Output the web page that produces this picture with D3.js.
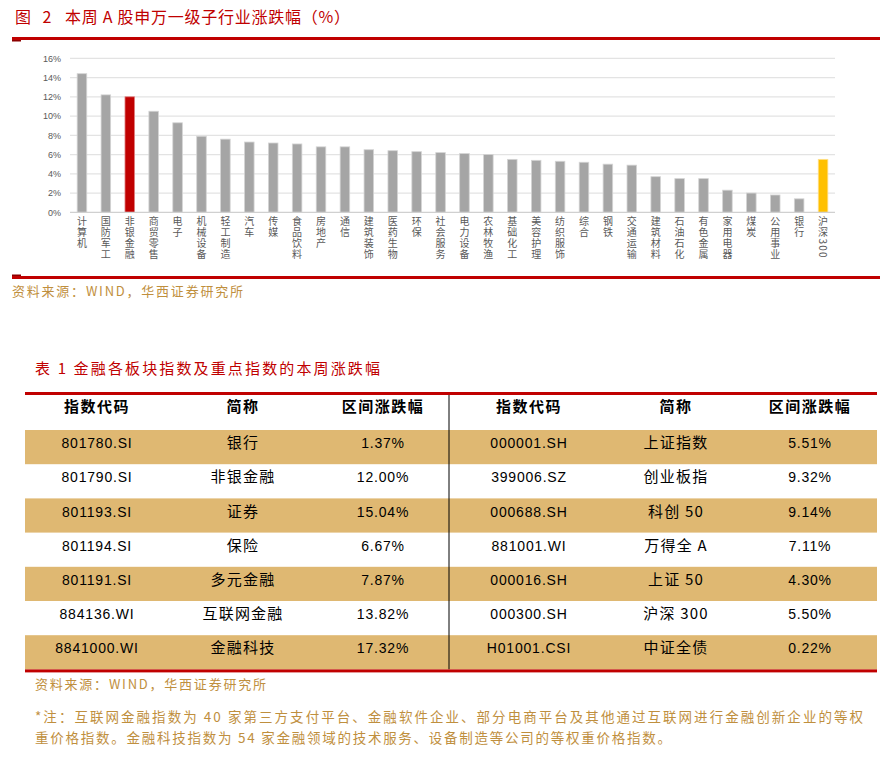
<!DOCTYPE html>
<html><head><meta charset="utf-8">
<script src="https://cdn.jsdelivr.net/npm/d3@7"></script>
<style>
html,body{margin:0;padding:0;background:#fff;}
svg{display:block;font-family:"Noto Sans CJK SC","Noto Sans",sans-serif;}
</style></head>
<body><svg id="c" width="890" height="760"></svg>
<script>
const categories = ["计算机","国防军工","非银金融","商贸零售","电子","机械设备","轻工制造","汽车","传媒","食品饮料","房地产","通信","建筑装饰","医药生物","环保","社会服务","电力设备","农林牧渔","基础化工","美容护理","纺织服饰","综合","钢铁","交通运输","建筑材料","石油石化","有色金属","家用电器","煤炭","公用事业","银行","沪深300"];
const values = [14.4,12.2,12.0,10.5,9.3,7.9,7.6,7.3,7.2,7.1,6.8,6.8,6.5,6.4,6.3,6.2,6.1,6.0,5.5,5.4,5.3,5.2,5.0,4.9,3.7,3.5,3.5,2.3,2.0,1.8,1.4,5.5];
const yTicks = [0,2,4,6,8,10,12,14,16];

const tableHeader = ["指数代码","简称","区间涨跌幅"];
const leftCodes = ["801780.SI","801790.SI","801193.SI","801194.SI","801191.SI","884136.WI","8841000.WI"];
const leftNames = ["银行","非银金融","证券","保险","多元金融","互联网金融","金融科技"];
const leftValues = ["1.37%","12.00%","15.04%","6.67%","7.87%","13.82%","17.32%"];
const rightCodes = ["000001.SH","399006.SZ","000688.SH","881001.WI","000016.SH","000300.SH","H01001.CSI"];
const rightNames = ["上证指数","创业板指","科创 50","万得全 A","上证 50","沪深 300","中证全债"];
const rightValues = ["5.51%","9.32%","9.14%","7.11%","4.30%","5.50%","0.22%"];

const svg = d3.select("#c");
const RED = "#c00000", GOLD = "#bf8f3e", TAN = "#dfb872";

// ---- Figure title
svg.append("text").attr("x",15).attr("y",23).attr("fill",RED).attr("font-size",16)
  .attr("letter-spacing",4).text("图 2");
svg.append("text").attr("x",65).attr("y",23).attr("fill",RED).attr("font-size",16)
  .attr("textLength",285).attr("lengthAdjust","spacing")
  .text("本周 A 股申万一级子行业涨跌幅（%）");
svg.append("rect").attr("x",12).attr("y",37).attr("width",868).attr("height",3).attr("fill",RED);
svg.append("rect").attr("x",12).attr("y",40).attr("width",9).attr("height",1.5).attr("fill","#8b0000");

// ---- Chart
const x = d3.scaleBand().domain(categories).range([70,835]).paddingInner(0.6).paddingOuter(0.3);
const y = d3.scaleLinear().domain([0,16]).range([212.3,58.3]);

const g = svg.append("g");
g.selectAll("line.grid").data(yTicks.filter(d=>d>0)).join("line").attr("class","grid")
  .attr("x1",70).attr("x2",835).attr("y1",d=>y(d)).attr("y2",d=>y(d))
  .attr("stroke","#e3e3e3").attr("stroke-width",1.2);
const yAxis = g.append("g").attr("transform","translate(70,0)")
  .call(d3.axisLeft(y).tickValues(yTicks).tickFormat(d=>d+"%").tickSize(0).tickPadding(9));
yAxis.select(".domain").remove();
yAxis.selectAll("text").attr("fill","#595959").attr("font-size",9).attr("font-family","Liberation Sans, Arial, sans-serif");

g.selectAll("rect.bar").data(categories).join("rect").attr("class","bar")
  .attr("x",d=>x(d)).attr("width",x.bandwidth())
  .attr("y",(d,i)=>y(values[i])).attr("height",(d,i)=>y(0)-y(values[i]))
  .attr("fill",d=> d==="非银金融"?RED:(d==="沪深300"?"#ffc000":"#a5a5a5"))
  .attr("stroke",d=> d==="非银金融"?"#e08080":(d==="沪深300"?"#ffe08a":"#d4d4d4")).attr("stroke-width",0.8);
g.append("line").attr("x1",70).attr("x2",835).attr("y1",y(0)).attr("y2",y(0))
  .attr("stroke","#d0d0d0").attr("stroke-width",1.2);

// vertical category labels
g.selectAll("text.cat").data(categories).join("text").attr("class","cat")
  .attr("x",d=>x(d)+x.bandwidth()/2).attr("y",216)
  .attr("style","writing-mode: vertical-rl; text-orientation: mixed;")
  .attr("letter-spacing",1.2)
  .attr("fill","#595959").attr("font-size",10).text(d=>d);

svg.append("rect").attr("x",12).attr("y",276).attr("width",868).attr("height",3).attr("fill",RED);
svg.append("rect").attr("x",12).attr("y",274.5).attr("width",9).attr("height",1.5).attr("fill","#8b0000");
svg.append("text").attr("x",12).attr("y",296).attr("fill",GOLD).attr("font-size",13)
  .attr("textLength",231).attr("lengthAdjust","spacing").text("资料来源：WIND，华西证券研究所");

// ---- Table
svg.append("text").attr("x",35).attr("y",374).attr("fill",RED).attr("font-size",15)
  .attr("textLength",345).attr("lengthAdjust","spacing").text("表 1  金融各板块指数及重点指数的本周涨跌幅");

const rowTop = 430, rowH = 34.2;
const nRows = leftCodes.length;
const tg = svg.append("g");
d3.range(nRows).forEach(i=>{
  if(i%2===0) tg.append("rect").attr("x",25).attr("y",rowTop+i*rowH).attr("width",852).attr("height",rowH).attr("fill",TAN);
});
tg.append("rect").attr("x",25).attr("y",392).attr("width",852).attr("height",3).attr("fill",RED);
tg.append("line").attr("x1",449).attr("x2",449).attr("y1",395).attr("y2",rowTop+nRows*rowH)
  .attr("stroke","#000").attr("stroke-width",1);
tg.append("rect").attr("x",25).attr("y",rowTop+nRows*rowH).attr("width",852).attr("height",3).attr("fill",RED);

const colX = [97,243,383,529,676,810];
[0,1,2].forEach(k=>{
  [colX[k],colX[k+3]].forEach(cx=>{
    tg.append("text").attr("x",cx).attr("y",412).attr("text-anchor","middle").attr("font-size",15)
      .attr("font-weight","bold").attr("fill","#000").attr("letter-spacing",1.5).text(tableHeader[k]);
  });
});
const cols = [leftCodes,leftNames,leftValues,rightCodes,rightNames,rightValues];
cols.forEach((arr,k)=>{
  tg.selectAll(null).data(arr).join("text")
    .attr("x",colX[k]).attr("y",(d,i)=>rowTop+i*rowH+rowH/2+1)
    .attr("text-anchor","middle").attr("font-size",(k%3===1)?15:14).attr("fill","#000")
    .attr("font-family", (k%3===1)?"Noto Sans CJK SC":"Liberation Sans, Arial, sans-serif")
    .attr("letter-spacing",(k%3===1)?1.2:0.8)
    .text(d=>d);
});

svg.append("text").attr("x",35).attr("y",689).attr("fill",GOLD).attr("font-size",13)
  .attr("textLength",231).attr("lengthAdjust","spacing").text("资料来源：WIND，华西证券研究所");
svg.append("text").attr("x",35).attr("y",722).attr("fill",GOLD).attr("font-size",13.5)
  .attr("textLength",828).attr("lengthAdjust","spacing")
  .text("*注：互联网金融指数为 40 家第三方支付平台、金融软件企业、部分电商平台及其他通过互联网进行金融创新企业的等权");
svg.append("text").attr("x",35).attr("y",743).attr("fill",GOLD).attr("font-size",13.5)
  .attr("textLength",636).attr("lengthAdjust","spacing")
  .text("重价格指数。金融科技指数为 54 家金融领域的技术服务、设备制造等公司的等权重价格指数。");
</script></body></html>
